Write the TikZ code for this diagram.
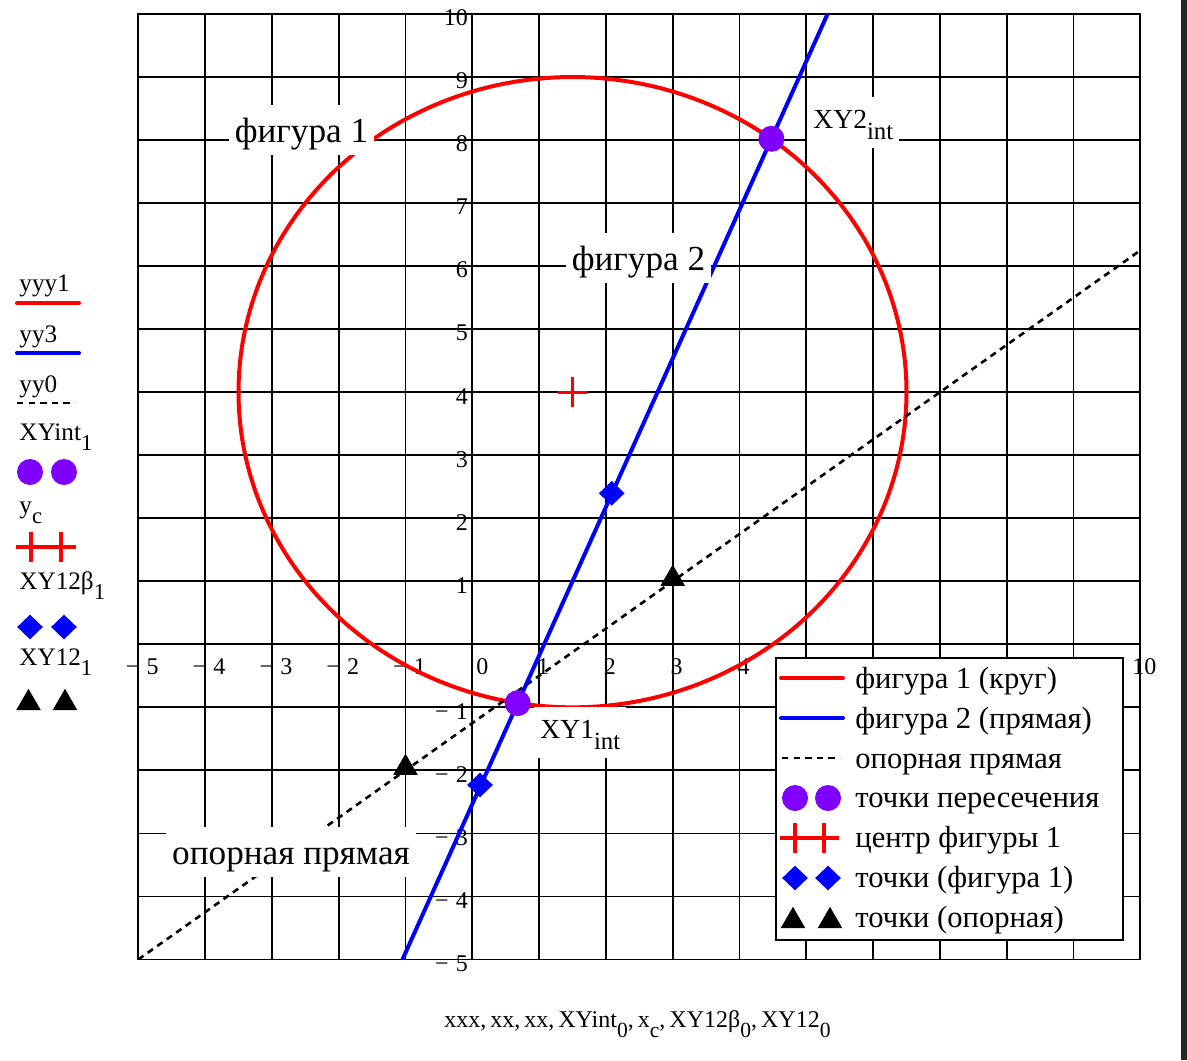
\documentclass[tikz,border=0pt]{standalone}
\usepackage{fontspec}
\setmainfont{Liberation Serif}
\usepackage{graphicx}
\usetikzlibrary{shapes.geometric}
\definecolor{pviolet}{RGB}{128,0,255}
\newcommand{\subx}[1]{\raisebox{-0.42em}{\scalebox{0.9}{#1}}}
\newcommand{\fsz}[1]{\fontsize{#1}{#1}\selectfont}
\tikzset{
  gridln/.style={line width=0.9pt, black},
  ticklbl/.style={font=\fsz{12pt}, inner sep=0pt},
  sidelbl/.style={font=\fsz{12.6pt}, inner sep=0pt, anchor=base west},
  legtxt/.style={font=\fsz{15.3pt}, inner sep=0pt, anchor=base west},
  bigbox/.style={font=\fsz{17.6pt}, fill=white, anchor=base, text height=16pt, text depth=4pt, inner ysep=2.5pt, inner xsep=3pt},
  intbox/.style={font=\fsz{13.8pt}, fill=white, anchor=base west, text height=15.5pt, text depth=10pt, inner ysep=0pt, inner xsep=3pt},
  redln/.style={red, line width=2pt, line join=round},
  blueln/.style={blue, line width=2pt},
  refln/.style={black, line width=1.3pt, dash pattern=on 3.2pt off 2.6pt},
  intpt/.style={circle, fill=pviolet, inner sep=0pt, minimum size=13pt},
  dmd/.style={diamond, fill=blue, inner sep=0pt, minimum width=13pt, minimum height=12.5pt},
  tri/.style={regular polygon, regular polygon sides=3, fill=black, inner sep=0pt, minimum size=14.2pt},
  crossmark/.style={inner sep=0pt, minimum size=15pt, path picture={
      \draw[red, line width=#1] (path picture bounding box.north) -- (path picture bounding box.south)
        (path picture bounding box.west) -- (path picture bounding box.east);}},
  crossmark/.default=1.4pt,
}
\begin{document}
\begin{tikzpicture}[x=0.5pt, y=-0.5pt]
\useasboundingbox (0,0) rectangle (1187,1060);
\fill[white] (0,0) rectangle (1187,1060);
\fill[black!85] (1181,0) rectangle (1187,1060);

% ---------- data area ----------
\begin{scope}[shift={(472.3,644.3)}, x=33.4pt, y=31.515pt]
  % grid
  \foreach \i in {-5,...,10} {
    \draw[gridln] (\i,-5) -- (\i,10);
    \draw[gridln] (-5,\i) -- (10,\i);
  }
  \draw[gridln] (-5,-5) rectangle (10,10);
  % tick labels x
  \foreach \k/\a in {-5/5,-4/4,-3/3,-2/2,-1/1}
    \node[ticklbl, xshift=2pt] (xlm\a) at (\k,-0.36) {−\hspace{0.3em}\a};
  \node[ticklbl, xshift=5pt] (xl0) at (0,-0.36) {0};
  \foreach \k in {1,2,3,4,10}
    \node[ticklbl, xshift=2pt] (xl\k) at (\k,-0.36) {\k};
  % tick labels y
  \foreach \k in {1,...,10}
    \node[ticklbl, anchor=east, xshift=-2pt, yshift=-2pt] (yl\k) at (0,\k) {\k};
  \foreach \k/\a in {-5/5,-4/4,-3/3,-2/2,-1/1}
    \node[ticklbl, anchor=east, xshift=-2pt, yshift=-2pt] (ylm\a) at (0,\k) {−\hspace{0.3em}\a};
  % curves
  \begin{scope}
    \clip (-5,-5) rectangle (10,10);
    \draw[redln] plot[domain=0:360, samples=361] ({1.5+5*cos(\x)}, {4+5*sin(\x)});
    \draw[refln] (-5,-5) -- (10,6.25);
    \draw[blueln] (-1.045,-5) -- (5.318,10);
  \end{scope}
\end{scope}

% ---------- labels with white boxes ----------
\node[bigbox] (fig1) at (301.5,142) {фигура 1};
\node[bigbox] (fig2) at (638.5,270) {фигура 2};
\node[bigbox] (oporn) at (291,864) {опорная прямая};
\node[intbox] (xy2lbl) at (807,128) {XY2\subx{int}};
\node[intbox] (xy1lbl) at (534,738) {XY1\subx{int}};

% ---------- markers ----------
\begin{scope}[shift={(472.3,644.3)}, x=33.4pt, y=31.515pt]
  \node[intpt] (xy1) at (0.680,-0.933) {};
  \node[intpt] (xy2) at (4.478,8.02) {};
  \node[crossmark] (ctr) at (1.5,4) {};
  \node[dmd] (d1) at (2.087,2.396) {};
  \node[dmd] (d2) at (0.115,-2.232) {};
  \node[tri] (t1) at (-1,-1.96) {};
  \node[tri] (t2) at (3,1.04) {};
\end{scope}

% ---------- legend inside ----------
\filldraw[fill=white, draw=black, line width=0.9pt] (776,658) rectangle (1123,940);
\coordinate (lr1a) at (781,678); \coordinate (lr1b) at (843,678);
\draw[redln, line cap=round] (lr1a) -- (lr1b);
\coordinate (lr2a) at (781,718); \coordinate (lr2b) at (843,718);
\draw[blueln, line cap=round] (lr2a) -- (lr2b);
\coordinate (lr3a) at (782,758); \coordinate (lr3b) at (840,758);
\draw[refln] (lr3a) -- (lr3b);
\node[intpt] (lc1) at (795,798) {};
\node[intpt] (lc2) at (828,798) {};
\node[crossmark=1.9pt] (lx1) at (795,838) {};
\node[crossmark=1.9pt] (lx2) at (824,838) {};
\node[dmd] (ld1) at (795,878) {};
\node[dmd] (ld2) at (828,878) {};
\node[tri] (lt1) at (793,921) {};
\node[tri] (lt2) at (830,921) {};
\node[legtxt] (lg1) at (855,688) {фигура 1 (круг)};
\node[legtxt] (lg2) at (855,728) {фигура 2 (прямая)};
\node[legtxt] (lg3) at (855,768) {опорная прямая};
\node[legtxt] (lg4) at (855,807) {точки пересечения};
\node[legtxt] (lg5) at (855,847) {центр фигуры 1};
\node[legtxt] (lg6) at (855,887) {точки (фигура 1)};
\node[legtxt] (lg7) at (855,927) {точки (опорная)};

% ---------- left legend ----------
\node[sidelbl] (s1) at (19,291) {yyy1};
\coordinate (s1a) at (17,303); \coordinate (s1b) at (79,303);
\draw[redln, line cap=round] (s1a) -- (s1b);
\node[sidelbl] (s2) at (19,342) {yy3};
\coordinate (s2a) at (17,353); \coordinate (s2b) at (79,353);
\draw[blueln, line cap=round] (s2a) -- (s2b);
\node[sidelbl] (s3) at (19,392) {yy0};
\coordinate (s3a) at (17,403); \coordinate (s3b) at (75,403);
\draw[refln] (s3a) -- (s3b);
\node[sidelbl] (s4) at (19,440) {XYint\subx{1}};
\node[intpt] (sc1) at (30,472) {};
\node[intpt] (sc2) at (64,472) {};
\node[sidelbl] (s5) at (19,513) {y\subx{c}};
\node[crossmark=1.9pt] (sx1) at (31,547) {};
\node[crossmark=1.9pt] (sx2) at (61,547) {};
\node[sidelbl] (s6) at (19,589) {XY12β\subx{1}};
\node[dmd] (sd1) at (30,627) {};
\node[dmd] (sd2) at (64,627) {};
\node[sidelbl] (s7) at (19,665) {XY12\subx{1}};
\node[tri] (st1) at (28.5,703) {};
\node[tri] (st2) at (65,703) {};

% ---------- bottom label ----------
\node[font=\fsz{12pt}, inner sep=0pt, anchor=base] (bottom) at (637.5,1027)
  {xxx,\,xx,\,xx,\,XYint\subx{0},\,x\subx{c},\,XY12β\subx{0},\,XY12\subx{0}};
\end{tikzpicture}
\end{document}
